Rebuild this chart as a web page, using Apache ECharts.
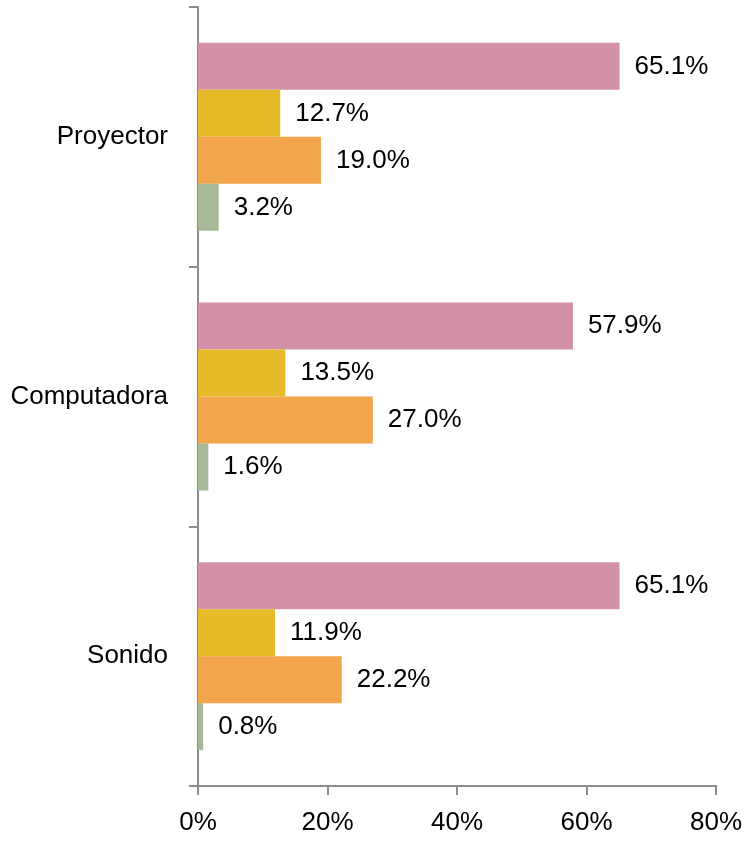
<!DOCTYPE html>
<html>
<head>
<meta charset="utf-8">
<script src="https://cdn.jsdelivr.net/npm/echarts@6/dist/echarts.min.js"></script>
<style>
  html, body { margin: 0; padding: 0; background: #fff; }
  #chart { width: 746px; height: 841px; }
</style>
</head>
<body>
<div id="chart"></div>
<script>
// categorias (de arriba a abajo)
const categories = ['Proyector', 'Computadora', 'Sonido'];
// valores de cada serie, en %
const serie1 = [65.1, 57.9, 65.1];
const serie2 = [12.7, 13.5, 11.9];
const serie3 = [19.0, 27.0, 22.2];
const serie4 = [3.2, 1.6, 0.8];
const colors = ['#d291a6', '#e5bb2a', '#f2a54a', '#a7b996'];

const font = "'Liberation Sans Narrow', 'Arial Narrow', 'Liberation Sans', sans-serif";
const fontSize = 26;
const axisColor = '#8c8c8c';

function makeSeries(data, i) {
  return {
    type: 'bar',
    data: data,
    barWidth: 47,
    barGap: '0%',
    itemStyle: { color: colors[i] },
    label: {
      show: true,
      position: 'right',
      distance: 15,
      color: '#000',
      fontFamily: font,
      fontSize: fontSize,
      formatter: p => p.value.toFixed(1) + '%'
    }
  };
}

const myChart = echarts.init(document.getElementById('chart'));
myChart.setOption({
  backgroundColor: '#fff',
  animation: false,
  grid: {
    left: 198, right: 30, top: 7, bottom: 55,
    containLabel: false,
    outerBoundsMode: 'none'
  },
  xAxis: {
    type: 'value',
    min: 0,
    max: 80,
    interval: 20,
    axisLine: { show: true, lineStyle: { color: axisColor, width: 2 } },
    axisTick: { show: true, length: 9, lineStyle: { color: axisColor, width: 2 } },
    splitLine: { show: false },
    axisLabel: {
      color: '#000',
      fontFamily: font,
      fontSize: fontSize,
      margin: 24,
      formatter: '{value}%'
    }
  },
  yAxis: {
    type: 'category',
    data: categories,
    inverse: true,
    axisLine: { show: true, lineStyle: { color: axisColor, width: 2 } },
    axisTick: { show: true, length: 9, lineStyle: { color: axisColor, width: 2 } },
    axisLabel: {
      color: '#000',
      fontFamily: font,
      fontSize: fontSize,
      margin: 30
    }
  },
  series: [serie1, serie2, serie3, serie4].map(makeSeries)
});
</script>
</body>
</html>
